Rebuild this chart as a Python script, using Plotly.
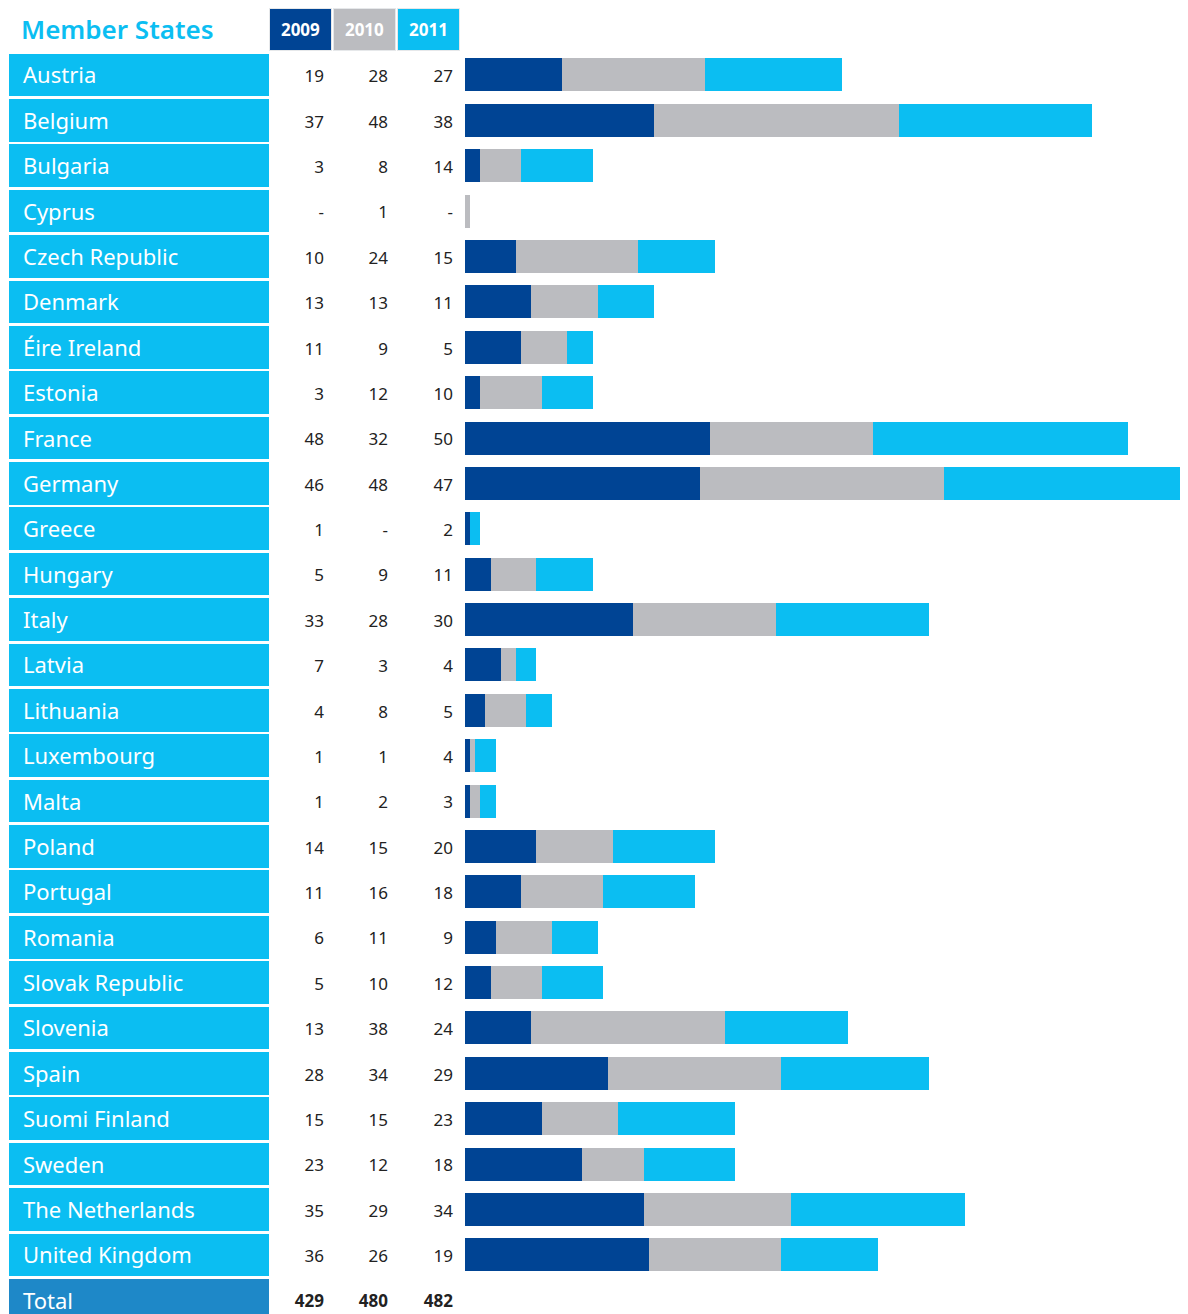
import plotly.graph_objects as go

countries = ["Austria", "Belgium", "Bulgaria", "Cyprus", "Czech Republic", "Denmark",
             "Éire Ireland", "Estonia", "France", "Germany", "Greece", "Hungary", "Italy",
             "Latvia", "Lithuania", "Luxembourg", "Malta", "Poland", "Portugal", "Romania",
             "Slovak Republic", "Slovenia", "Spain", "Suomi Finland", "Sweden",
             "The Netherlands", "United Kingdom"]
v2009 = [19, 37, 3, 0, 10, 13, 11, 3, 48, 46, 1, 5, 33, 7, 4, 1, 1, 14, 11, 6, 5, 13, 28, 15, 23, 35, 36]
v2010 = [28, 48, 8, 1, 24, 13, 9, 12, 32, 48, 0, 9, 28, 3, 8, 1, 2, 15, 16, 11, 10, 38, 34, 15, 12, 29, 26]
v2011 = [27, 38, 14, 0, 15, 11, 5, 10, 50, 47, 2, 11, 30, 4, 5, 4, 3, 20, 18, 9, 12, 24, 29, 23, 18, 34, 19]
years = ["2009", "2010", "2011"]
totals = [429, 480, 482]
header_title = "Member States"
total_label = "Total"

# ---- styles ----
DARK = "#004494"
GREY = "#BBBCC0"
CYAN = "#0BBEF2"
TOTAL_BG = "#1E88C8"
TXT = "#222222"
FONT = "Noto Sans"
OFF = 8  # page body margin
W, H = 1188 - OFF, 1314 - OFF


def px(v):
    return v - OFF


HDR = "hdr"
rows = [HDR] + countries + [total_label]

fig = go.Figure()

# stacked bars
for vals, col, name in zip([v2009, v2010, v2011], [DARK, GREY, CYAN], years):
    fig.add_trace(go.Bar(y=countries, x=vals, orientation="h", marker_color=col,
                         marker_line_width=0, width=0.727, name=name,
                         xaxis="x", yaxis="y", hoverinfo="skip"))

# table on xaxis2 (pixel units)
BOX_L, BOX_R = px(8.5), px(268.5)
n = len(countries) + 1
fig.add_trace(go.Bar(y=countries + [total_label], x=[BOX_R - BOX_L] * n,
                     base=[BOX_L] * n, orientation="h",
                     marker_color=[CYAN] * len(countries) + [TOTAL_BG], marker_line_width=0,
                     width=0.94, xaxis="x2", yaxis="y", hoverinfo="skip"))
fig.add_trace(go.Scatter(y=countries + [total_label], x=[px(23)] * n, mode="text",
                         text=countries + [total_label], textposition="middle right",
                         textfont=dict(family=FONT, size=22, color="white"),
                         xaxis="x2", yaxis="y2", hoverinfo="skip"))

# year header boxes
HB_L = [px(269.5), px(333.5), px(397.5)]
HB_W = 62
fig.add_trace(go.Bar(y=[HDR] * 3, x=[HB_W] * 3, base=HB_L, orientation="h",
                     marker_color=[DARK, GREY, CYAN], marker_line=dict(color="#E6E8EA", width=1),
                     width=0.94, text=years, textposition="inside", insidetextanchor="middle",
                     textfont=dict(family=FONT, size=17, color="white", weight="bold"),
                     xaxis="x2", yaxis="y", hoverinfo="skip"))
fig.add_trace(go.Scatter(y=[HDR], x=[px(21)], mode="text", text=[header_title],
                         textposition="middle right",
                         textfont=dict(family=FONT, size=26, color=CYAN, weight=600),
                         xaxis="x2", yaxis="y2", hoverinfo="skip"))

# numbers columns
NUM_X = [px(324), px(388), px(453)]
for vals, tot, nx in zip([v2009, v2010, v2011], totals, NUM_X):
    fig.add_trace(go.Scatter(y=countries, x=[nx] * len(countries), mode="text",
                             text=[str(v) if v else "-" for v in vals], textposition="middle left",
                             textfont=dict(family=FONT, size=17, color=TXT),
                             xaxis="x2", yaxis="y2", hoverinfo="skip"))
    fig.add_trace(go.Scatter(y=[total_label], x=[nx], mode="text", text=[f"<b>{tot}</b>"],
                             textposition="middle left",
                             textfont=dict(family=FONT, size=17, color=TXT),
                             xaxis="x2", yaxis="y2", hoverinfo="skip"))

pitch = 45.38
c0 = px(29.6)
c0_text = c0 + 3
split = px(465)
fig.update_layout(
    width=W, height=H, margin=dict(l=0, r=0, t=0, b=0),
    paper_bgcolor="white", plot_bgcolor="white",
    barmode="stack", showlegend=False,
    xaxis=dict(domain=[split / W, 1], range=[0, (W - split) / 5.1], visible=False, fixedrange=True),
    xaxis2=dict(domain=[0, split / W], range=[0, split], visible=False, fixedrange=True),
    yaxis=dict(type="category", categoryorder="array", categoryarray=rows,
               range=[(H - c0) / pitch, -c0 / pitch], visible=False, fixedrange=True),
    yaxis2=dict(type="category", categoryorder="array", categoryarray=rows, overlaying="y",
                range=[(H - c0_text) / pitch, -c0_text / pitch], visible=False, fixedrange=True),
)
fig.write_html("out.html")
